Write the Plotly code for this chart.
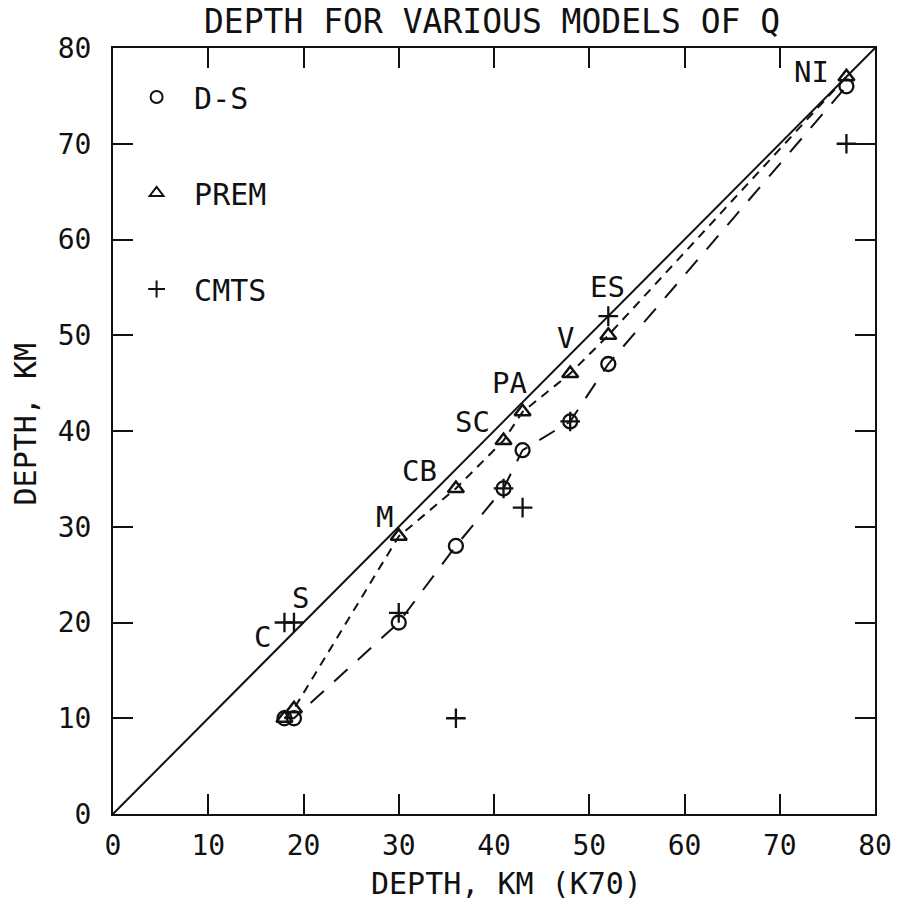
import plotly.graph_objects as go

# ---- data ----
stations = ["C", "S", "M", "CB", "SC", "PA", "V", "ES", "NI"]
k70_depth = [18, 19, 30, 36, 41, 43, 48, 52, 77]
ds_depth = [10, 10, 20, 28, 34, 38, 41, 47, 76]
prem_depth = [10, 11, 29, 34, 39, 42, 46, 50, 77]
cmts_depth = [20, 20, 21, 10, 34, 32, 41, 52, 70]
# which model each station label sits next to, and pixel offsets of the label
label_anchor = ["cmts", "cmts", "prem", "prem", "prem", "prem", "prem", "cmts", "prem"]
label_shift = [(-22, -14), (7, 25), (-14, 19), (-36, 17), (-31, 19), (-13, 29), (-5, 36), (-1, 29), (-35, 5)]

ticks = [0, 10, 20, 30, 40, 50, 60, 70, 80]
diag = [0, 80]

FONT = "DejaVu Sans Mono"
INK = "#111111"

fig = go.Figure()

# one-to-one line
fig.add_trace(go.Scatter(x=diag, y=diag, mode="lines",
                         line=dict(color=INK, width=2), showlegend=False, hoverinfo="skip"))
# model curves
fig.add_trace(go.Scatter(x=k70_depth, y=prem_depth, mode="lines",
                         line=dict(color=INK, width=2, dash="9px,7px"), showlegend=False))
fig.add_trace(go.Scatter(x=k70_depth, y=ds_depth, mode="lines",
                         line=dict(color=INK, width=2, dash="18px,14px"), showlegend=False))

# markers (with legend)
fig.add_trace(go.Scatter(x=k70_depth, y=ds_depth, mode="markers", name="D-S", legendgroup="a",
                         marker=dict(symbol="circle-open", size=14, color=INK, line=dict(width=2.3))))
fig.add_trace(go.Scatter(x=k70_depth, y=prem_depth, mode="markers", name="PREM", legendgroup="b",
                         marker=dict(symbol="triangle-up-open", size=14, color=INK, line=dict(width=2.5))))
fig.add_trace(go.Scatter(x=k70_depth, y=cmts_depth, mode="markers", name="CMTS", legendgroup="c",
                         marker=dict(symbol="cross-thin-open", size=14, color=INK, line=dict(width=2.3, color=INK))))

# station labels
anchors = {"prem": prem_depth, "cmts": cmts_depth, "ds": ds_depth}
for i, name in enumerate(stations):
    fig.add_annotation(x=k70_depth[i], y=anchors[label_anchor[i]][i], text=name,
                       showarrow=False, xshift=label_shift[i][0], yshift=label_shift[i][1],
                       xanchor="center", yanchor="middle",
                       font=dict(family=FONT, size=29, color=INK))

axis_common = dict(range=[0, 80], tickvals=ticks, ticks="inside", ticklen=20, tickwidth=2,
                   tickcolor=INK, showline=True, linewidth=2, linecolor=INK, mirror="ticks",
                   showgrid=False, zeroline=False, fixedrange=True,
                   tickfont=dict(family=FONT, size=28, color=INK))

fig.update_layout(
    width=904, height=904,
    margin=dict(l=113, r=25, t=48, b=90),
    paper_bgcolor="white", plot_bgcolor="white",
    xaxis=dict(**axis_common, ticklabelstandoff=5),
    yaxis=dict(**axis_common, ticklabelstandoff=14),
    showlegend=True,
    legend=dict(x=0.008, y=0.97, xanchor="left", yanchor="top", bgcolor="rgba(0,0,0,0)",
                font=dict(family=FONT, size=30, color=INK), tracegroupgap=54,
                itemsizing="constant", itemwidth=65),
)

title_font = dict(family=FONT, size=33, color=INK)
fig.add_annotation(text="DEPTH FOR VARIOUS MODELS OF Q", xref="paper", yref="paper",
                   x=(494 - 113) / 766, y=(814 - 22) / 766, showarrow=False,
                   xanchor="center", yanchor="middle", font=title_font)
fig.add_annotation(text="DEPTH, KM (K70)", xref="paper", yref="paper",
                   x=(509 - 113) / 766, y=(814 - 884) / 766, showarrow=False,
                   xanchor="center", yanchor="middle", font=dict(family=FONT, size=30, color=INK))
fig.add_annotation(text="DEPTH, KM", xref="paper", yref="paper", textangle=-90,
                   x=(25 - 113) / 766, y=(814 - 424) / 766, showarrow=False,
                   xanchor="center", yanchor="middle", font=dict(family=FONT, size=30, color=INK))

fig.write_html("out.html")
